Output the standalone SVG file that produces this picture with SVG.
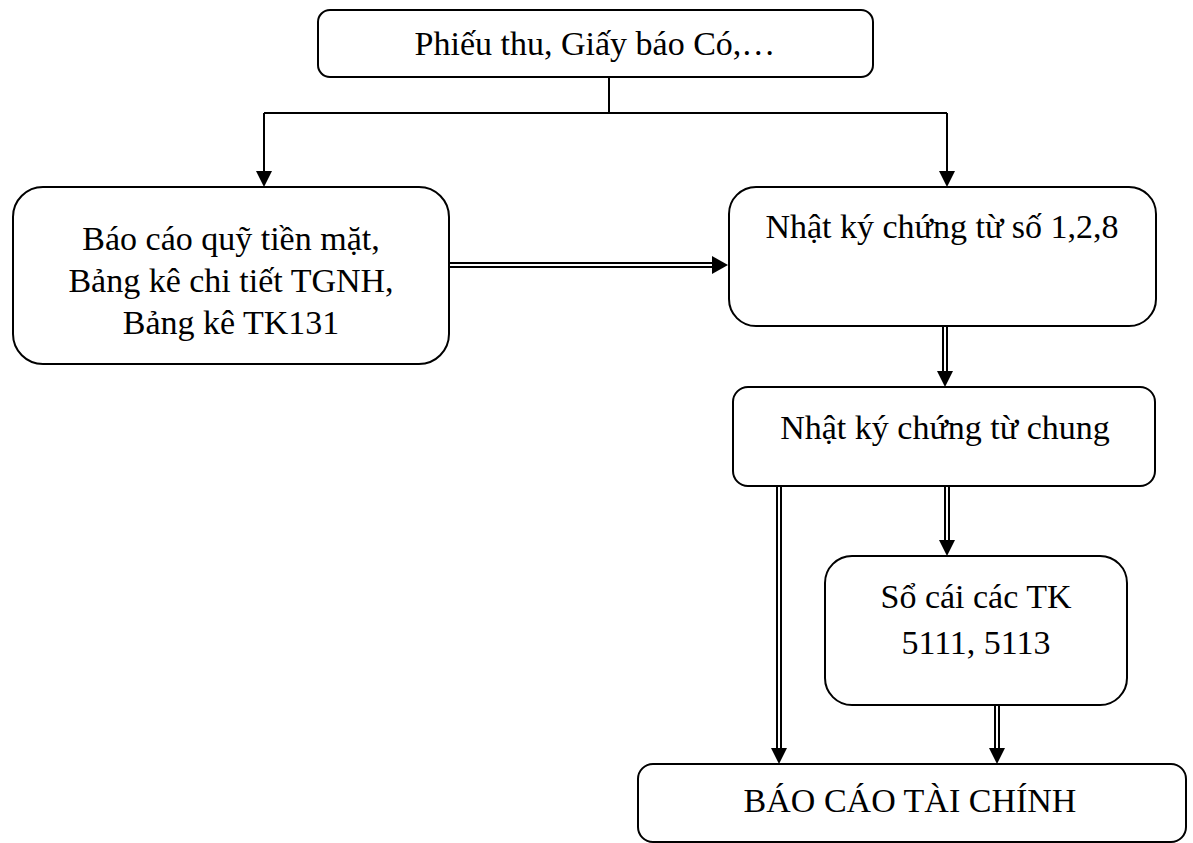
<svg xmlns="http://www.w3.org/2000/svg" width="1193" height="843" viewBox="0 0 1193 843">
  <style>
    .box { fill: #ffffff; stroke: #000000; stroke-width: 2; }
    .lbl { font-family: "Liberation Serif", "Times New Roman", serif; font-size: 34px; fill: #000000; text-anchor: middle; }
    .wire { fill: none; stroke: #000000; stroke-width: 2; }
    .dbl-out { fill: none; stroke: #000000; stroke-width: 6; }
    .dbl-in { fill: none; stroke: #ffffff; stroke-width: 2; }
    .head { fill: #000000; stroke: none; }
  </style>
  <rect width="1193" height="843" fill="#ffffff"/>

  <!-- connectors -->
  <g id="connectors">
    <!-- split from source documents -->
    <path class="wire" d="M609,77 V113 M264,113 H947 M264,113 V172 M947,113 V172"/>
    <polygon class="head" points="256,171 272,171 264,187"/>
    <polygon class="head" points="939,171 955,171 947,187"/>

    <!-- reports -> journal 1,2,8 -->
    <path class="dbl-out" d="M449,265 H712"/>
    <path class="dbl-in" d="M449,265 H712"/>
    <polygon class="head" points="712,256 712,274 728,265"/>

    <!-- journal 1,2,8 -> general journal -->
    <path class="dbl-out" d="M945,326 V371"/>
    <path class="dbl-in" d="M945,326 V371"/>
    <polygon class="head" points="937,371 953,371 945,387"/>

    <!-- general journal -> financial statements -->
    <path class="dbl-out" d="M779,486 V748"/>
    <path class="dbl-in" d="M779,486 V748"/>
    <polygon class="head" points="771,748 787,748 779,764"/>

    <!-- general journal -> ledger -->
    <path class="dbl-out" d="M947,486 V540"/>
    <path class="dbl-in" d="M947,486 V540"/>
    <polygon class="head" points="939,540 955,540 947,556"/>

    <!-- ledger -> financial statements -->
    <path class="dbl-out" d="M997,705 V748"/>
    <path class="dbl-in" d="M997,705 V748"/>
    <polygon class="head" points="989,748 1005,748 997,764"/>
  </g>

  <g id="node-source">
    <rect class="box" x="318" y="10" width="555" height="67" rx="12"/>
    <text class="lbl" x="595" y="55">Phiếu thu, Giấy báo Có,…</text>
  </g>

  <g id="node-reports">
    <rect class="box" x="13" y="187" width="436" height="177" rx="30"/>
    <text class="lbl" x="231" y="250">Báo cáo quỹ tiền mặt,</text>
    <text class="lbl" x="231" y="292">Bảng kê chi tiết TGNH,</text>
    <text class="lbl" x="231" y="334">Bảng kê TK131</text>
  </g>

  <g id="node-journal-128">
    <rect class="box" x="729" y="187" width="427" height="139" rx="27"/>
    <text class="lbl" x="942" y="238">Nhật ký chứng từ số 1,2,8</text>
  </g>

  <g id="node-general-journal">
    <rect class="box" x="733" y="387" width="422" height="99" rx="15"/>
    <text class="lbl" x="945" y="439">Nhật ký chứng từ chung</text>
  </g>

  <g id="node-ledger">
    <rect class="box" x="825" y="556" width="302" height="149" rx="27"/>
    <text class="lbl" x="976" y="608">Sổ cái các TK</text>
    <text class="lbl" x="976" y="654">5111, 5113</text>
  </g>

  <g id="node-statements">
    <rect class="box" x="638" y="764" width="548" height="78" rx="15"/>
    <text class="lbl" x="910" y="812">BÁO CÁO TÀI CHÍNH</text>
  </g>
</svg>
